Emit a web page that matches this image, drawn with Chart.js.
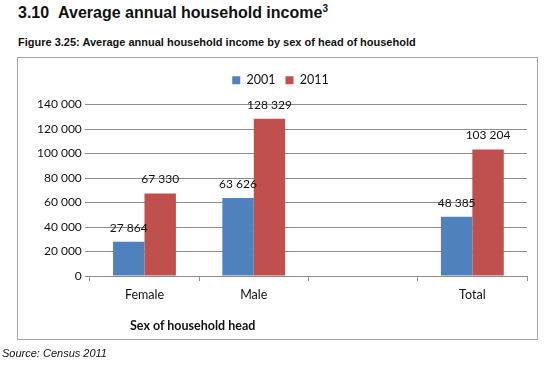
<!DOCTYPE html>
<html>
<head>
<meta charset="utf-8">
<script src="https://cdn.jsdelivr.net/npm/chart.js@4.4.0/dist/chart.umd.min.js"></script>
<style>
  body { margin: 0; width: 549px; height: 366px; background: #fff; position: relative; overflow: hidden; font-family: "Liberation Sans", Arial, sans-serif; }
  #h1 { position: absolute; left: 18px; top: 3px; font-size: 16px; font-weight: bold; color: #111; }
  #h1 sup { font-size: 10px; }
  #h2 { position: absolute; left: 18px; top: 36px; font-size: 11px; font-weight: bold; color: #111; }
  #box { position: absolute; left: 17px; top: 57px; width: 519px; height: 281px; border: 1px solid #a6a6a6; }
  #xtitle { position: absolute; left: 130px; top: 318px; font-family: Lato, sans-serif; font-weight: bold; font-size: 12.5px; color: #111; }
  #src { position: absolute; left: 2px; top: 347px; font-size: 11px; font-style: italic; color: #111; }
</style>
</head>
<body>
<div id="h1">3.10&nbsp;&nbsp;Average annual household income<sup>3</sup></div>
<div id="h2">Figure 3.25: Average annual household income by sex of head of household</div>
<div id="box"><canvas id="chart"></canvas></div>
<div id="xtitle">Sex of household head</div>
<div id="src">Source: Census 2011</div>
<script>
const categories = ['Female', 'Male', '', 'Total'];
const income2001 = [27864, 63626, null, 48385];
const income2011 = [67330, 128329, null, 103204];

const fmt = (v) => String(v).replace(/\B(?=(\d{3})+(?!\d))/g, ' ');

// simple value labels above the bars
const barLabels = {
  id: 'barLabels',
  afterDatasetsDraw(chart) {
    const ctx = chart.ctx;
    ctx.save();
    ctx.font = '12px Lato, sans-serif';
    ctx.fillStyle = '#111';
    ctx.textAlign = 'center';
    ctx.textBaseline = 'bottom';
    chart.data.datasets.forEach((ds, i) => {
      chart.getDatasetMeta(i).data.forEach((bar, j) => {
        if (ds.data[j] == null) return;
        ctx.fillText(fmt(ds.data[j]), bar.x, bar.y - 8);
      });
    });
    ctx.restore();
  }
};

// a bit more room under the legend
const legendGap = {
  id: 'legendGap',
  beforeInit(chart) {
    const fit = chart.legend.fit;
    chart.legend.fit = function () {
      fit.bind(chart.legend)();
      this.height += 8;
    };
  }
};

new Chart(document.getElementById('chart'), {
  type: 'bar',
  data: {
    labels: categories,
    datasets: [
      { label: '2001', data: income2001, backgroundColor: '#4F81BD' },
      { label: '2011', data: income2011, backgroundColor: '#C0504D' }
    ]
  },
  options: {
    responsive: true,
    maintainAspectRatio: false,
    animation: false,
    categoryPercentage: 0.575,
    barPercentage: 1,
    layout: { padding: { top: 6, right: 10, bottom: 31, left: 16 } },
    plugins: {
      legend: {
        position: 'top',
        labels: {
          boxWidth: 8, boxHeight: 8, padding: 10,
          color: '#111',
          font: { family: 'Lato, sans-serif', size: 12.5 }
        }
      },
      tooltip: { enabled: false }
    },
    scales: {
      x: {
        grid: { drawOnChartArea: false, drawTicks: true, tickLength: 5, color: '#8c8c8c' },
        border: { color: '#8c8c8c' },
        ticks: { color: '#111', padding: 6, font: { family: 'Lato, sans-serif', size: 12.5 } }
      },
      y: {
        min: 0, max: 140000,
        border: { display: false },
        grid: { color: '#8c8c8c', tickLength: 5 },
        ticks: {
          stepSize: 20000, color: '#111', padding: 3,
          font: { family: 'Lato, sans-serif', size: 12 },
          callback: (v) => fmt(v)
        }
      }
    }
  },
  plugins: [barLabels, legendGap]
});
</script>
</body>
</html>
